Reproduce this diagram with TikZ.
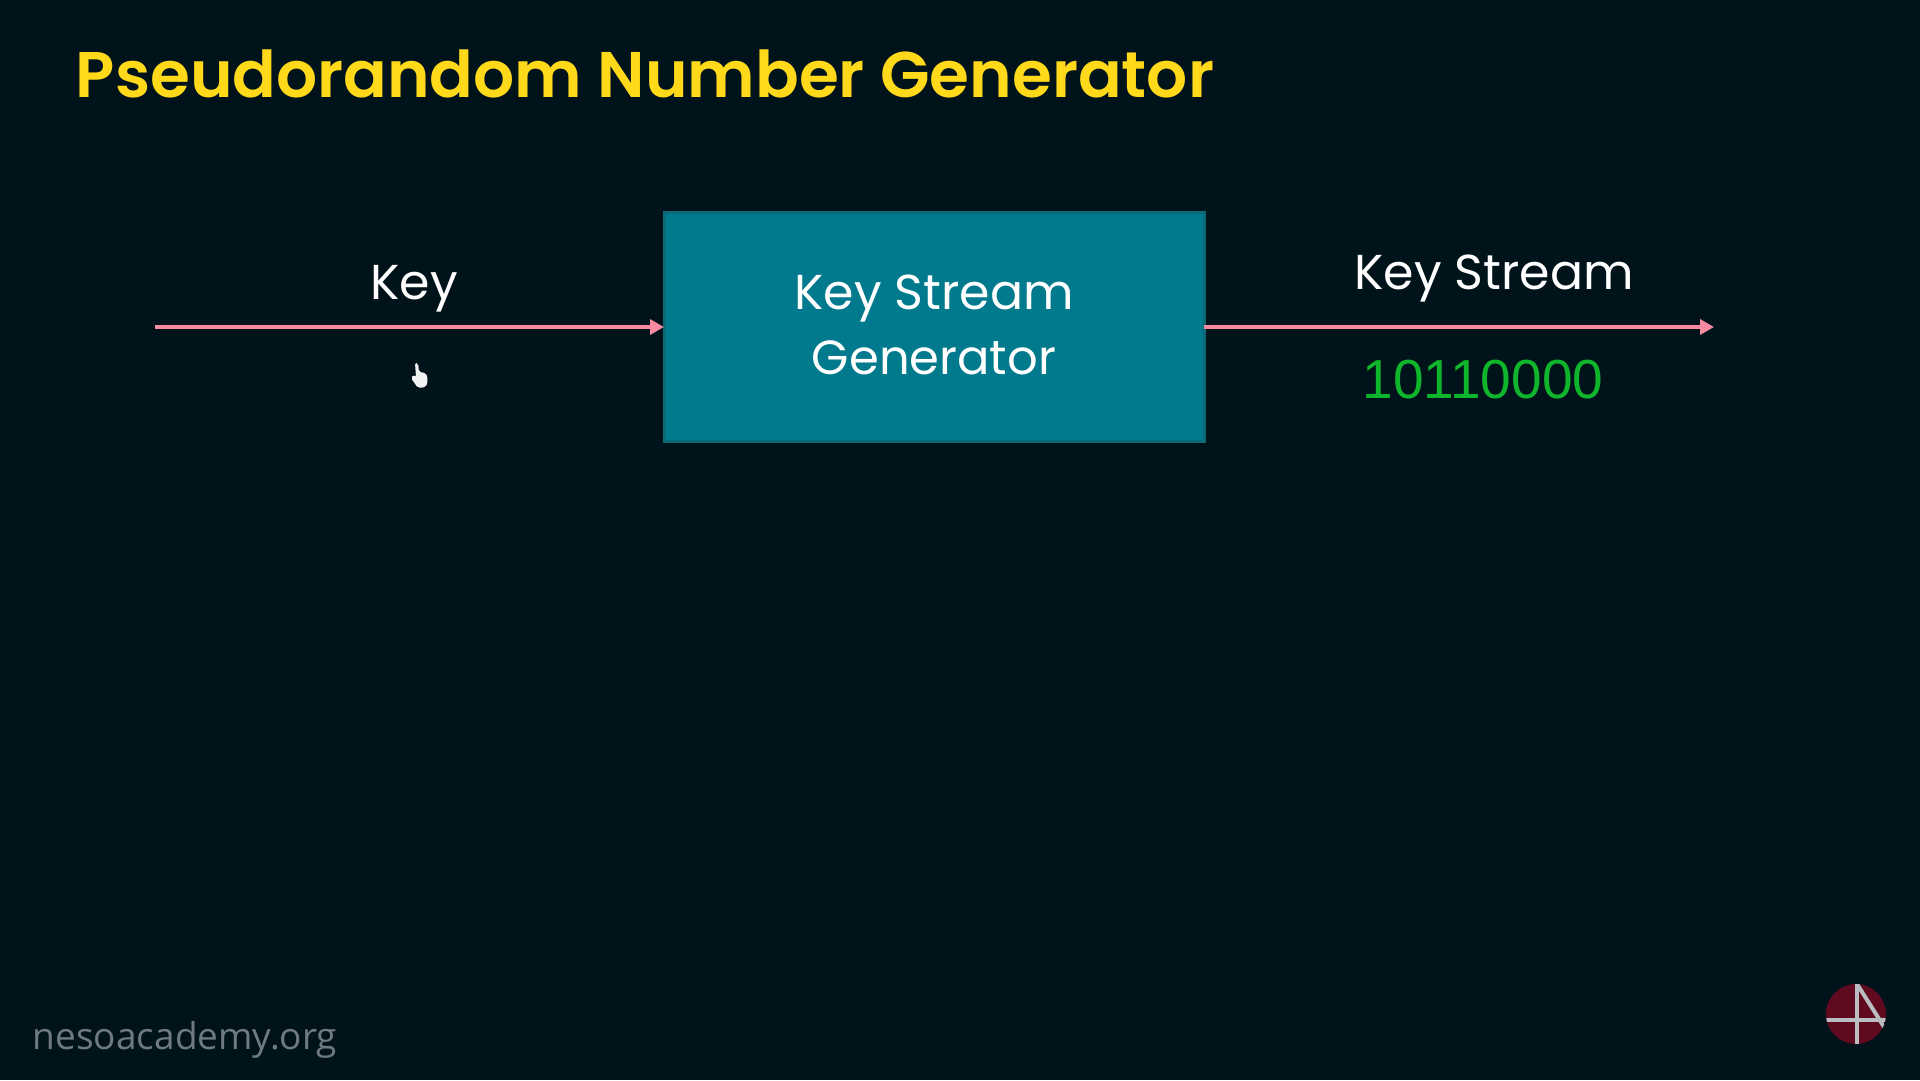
\documentclass[tikz,border=0pt]{standalone}
\usepackage{fontspec}
\setmainfont{Poppins}
\newfontfamily\titlefont{Poppins SemiBold}
\newfontfamily\labelfont{Poppins}
\newfontfamily\digitfont{Liberation Sans}
\newfontfamily\webfont{Open Sans}
\usetikzlibrary{arrows.meta}
\definecolor{bgc}{HTML}{00131B}
\definecolor{boxc}{HTML}{007A8C}
\definecolor{boxe}{HTML}{0A6A78}
\definecolor{pinkc}{HTML}{F58AA0}
\definecolor{titlec}{HTML}{FFD91A}
\definecolor{greenc}{HTML}{0FB52B}
\definecolor{webc}{HTML}{6E7A80}
\definecolor{logoc}{HTML}{5F0A1E}
\definecolor{logol}{HTML}{B9BDC1}
\tikzset{
  x=1pt,y=-1pt,
  flow/.style={draw=pinkc,line width=4.4pt,-{Triangle[length=14pt,width=15pt]}},
  genbox/.style={draw=boxe,line width=3pt,fill=boxc,minimum width=540pt,minimum height=229pt,inner sep=0pt,outer sep=0pt,align=center,text=white},
  lbl/.style={text=white,inner sep=0pt},
}
\begin{document}
\begin{tikzpicture}
\useasboundingbox (0,0) rectangle (1920,1080);
\fill[bgc] (0,0) rectangle (1920,1080);
\node[inner sep=0pt,text=titlec,anchor=center] (title) at (645,74) {\titlefont\fontsize{64.5}{70}\selectfont Pseudorandom Number Generator};
\node[genbox] (gen) at (934,327) {};
\node[lbl] (l1) at (934,299) {\labelfont\fontsize{49}{52}\selectfont Key Stream};
\node[lbl] (l2) at (934,358) {\labelfont\fontsize{48}{52}\selectfont Generator};
\coordinate (kin) at (155,327);
\coordinate (kout) at (1714,327);
\draw[flow] (kin) -- (gen.west);
\draw[flow] (gen.east) -- (kout);
\node[lbl] (key) at (414,289) {\labelfont\fontsize{49}{52}\selectfont Key};
\node[lbl] (ks) at (1494,279) {\labelfont\fontsize{49}{52}\selectfont Key Stream};
\node[inner sep=0pt,text=greenc] (bits) at (1483,380) {\digitfont\fontsize{55}{58}\selectfont 10110000};
\node[inner sep=0pt,text=webc] (web) at (185,1040) {\webfont\fontsize{37}{40}\selectfont nesoacademy.org};
% cursor
\fill[white!90!gray,rounded corners=2pt] (415,363) -- (418,363) -- (419,372) -- (426,373) -- (428,380) -- (426,387) -- (418,388) -- (411,378) -- (413,375) -- (416,377) -- cycle;
% logo
\begin{scope}
\clip (1856,1014) circle (30);
\fill[logoc] (1856,1014) circle (30);
\draw[logol,line width=4pt] (1856.5,984) -- (1856.5,1044);
\draw[logol,line width=4pt] (1826,1020) -- (1886,1020);
\draw[logol,line width=4pt] (1857,984) -- (1886,1030);
\end{scope}
\end{tikzpicture}
\end{document}
